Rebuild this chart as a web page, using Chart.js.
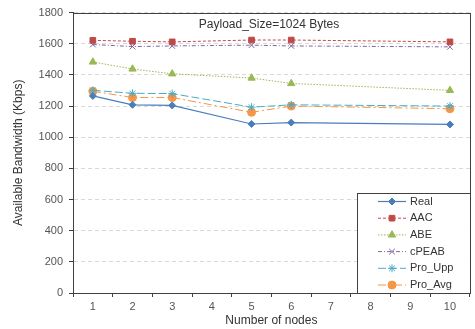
<!DOCTYPE html>
<html><head><meta charset="utf-8">
<script src="https://cdn.jsdelivr.net/npm/chart.js@4/dist/chart.umd.min.js"></script>
<style>html,body{margin:0;padding:0;background:#fff}#wrap{width:475px;height:329px}</style>
</head><body><div id="wrap"><canvas id="c" width="475" height="329"></canvas></div>
<script>
const categories = ['1','2','3','4','5','6','7','8','9','10'];
const real   = [1265, 1208, 1204, null, 1085, 1094, null, null, null, 1082];
const aac    = [1622, 1616, 1612, null, 1624, 1624, null, null, null, 1612];
const abe    = [1483, 1438, 1407, null, 1380, 1345, null, null, null, 1301];
const cpeab  = [1595, 1582, 1586, null, 1591, 1586, null, null, null, 1580];
const proUpp = [1301, 1282, 1280, null, 1193, 1208, null, null, null, 1200];
const proAvg = [1295, 1255, 1255, null, 1160, 1200, null, null, null, 1183];
const yTicks = [0,200,400,600,800,1000,1200,1400,1600,1800];
const chartTitle = 'Payload_Size=1024 Bytes';

const FONT = 'Arial, "Liberation Sans", sans-serif';
function ds(label, data, color, style, radius, dash, width) {
  return {label, data, borderColor: color, backgroundColor: color, pointStyle: style,
    pointRadius: radius, pointHoverRadius: radius, pointBorderWidth: 1, borderWidth: width,
    borderDash: dash, spanGaps: true, tension: 0, fill: false};
}
const datasets = [
  ds('Real', real, '#4a7ebb', 'rectRot', 3.5, [], 1.2),
  ds('AAC', aac, '#be4b48', 'rect', 4, [3,2], 1),
  ds('ABE', abe, '#98b954', 'triangle', 4.2, [1.5,1.5], 1),
  ds('cPEAB', cpeab, '#8064a2', 'crossRot', 4, [4,2,1,2], 1),
  ds('Pro_Upp', proUpp, '#4bacc6', 'star', 4, [8,3], 1),
  ds('Pro_Avg', proAvg, '#f79646', 'circle', 4, [8,3,2,3], 1)
];

const framePlugin = {
  id: 'frame',
  afterDatasetsDraw(chart) {
    const {ctx, chartArea: a} = chart;
    ctx.save();
    ctx.strokeStyle = '#404040'; ctx.lineWidth = 1; ctx.setLineDash([]);
    ctx.strokeRect(Math.round(a.left)+0.5, Math.round(a.top)+0.5, Math.round(a.right-a.left), Math.round(a.bottom-a.top));
    ctx.fillStyle = '#333'; ctx.font = '12px ' + FONT; ctx.textAlign = 'center'; ctx.textBaseline = 'middle';
    ctx.fillText(chartTitle, 269, 25);
    const bx = 357, by = 193, bw = a.right - 357, bh = a.bottom - 193;
    ctx.fillStyle = '#fff';
    ctx.fillRect(bx, by, bw, bh);
    ctx.strokeStyle = '#404040';
    ctx.strokeRect(bx+0.5, by+0.5, Math.round(bw), Math.round(bh));
    chart.data.datasets.forEach((d, i) => {
      const y = 201.5 + i * 16.7;
      ctx.save();
      ctx.strokeStyle = d.borderColor; ctx.lineWidth = d.borderWidth; ctx.setLineDash(d.borderDash);
      ctx.beginPath(); ctx.moveTo(378, y); ctx.lineTo(406, y); ctx.stroke();
      ctx.setLineDash([]);
      ctx.fillStyle = d.backgroundColor; ctx.strokeStyle = d.borderColor; ctx.lineWidth = 1;
      Chart.helpers.drawPoint(ctx, {pointStyle: d.pointStyle, radius: d.pointRadius, borderWidth: 1, rotation: 0}, 392, y);
      ctx.restore();
      ctx.fillStyle = '#333'; ctx.font = '11px ' + FONT; ctx.textAlign = 'left'; ctx.textBaseline = 'middle';
      ctx.fillText(d.label, 410, y);
    });
    ctx.restore();
  }
};

new Chart(document.getElementById('c'), {
  type: 'line',
  data: {labels: categories, datasets},
  options: {
    responsive: false, animation: false, devicePixelRatio: 1,
    layout: {padding: {top: 9, right: 3, left: 0, bottom: 0}},
    plugins: {legend: {display: false}, tooltip: {enabled: false}},
    scales: {
      x: {
        offset: true,
        grid: {offset: true, drawOnChartArea: false, drawTicks: true, tickLength: 4, tickColor: '#404040'},
        border: {color: '#404040', width: 1},
        ticks: {color: '#555', font: {size: 11, family: FONT}, padding: 3, maxRotation: 0, autoSkip: false},
        title: {display: true, text: 'Number of nodes', color: '#333', font: {size: 12, family: FONT}, padding: {top: 0, bottom: 1}},
        afterFit(s) { s.height = 36; }
      },
      y: {
        min: 0, max: 1800,
        afterBuildTicks(s) { s.ticks = yTicks.map(v => ({value: v})); },
        grid: {color: '#d9d9d9', drawTicks: true, tickLength: 4, tickColor: '#404040'},
        border: {color: '#404040', width: 1, dash: [4,3]},
        ticks: {color: '#555', font: {size: 11, family: FONT}, padding: 6, callback: v => String(v)},
        title: {display: true, text: 'Available Bandwidth (Kbps)', color: '#333', font: {size: 12, family: FONT}, padding: {top: 11, bottom: 0}},
        afterFit(s) { s.width = 73; }
      }
    }
  },
  plugins: [framePlugin]
});
</script></body></html>
